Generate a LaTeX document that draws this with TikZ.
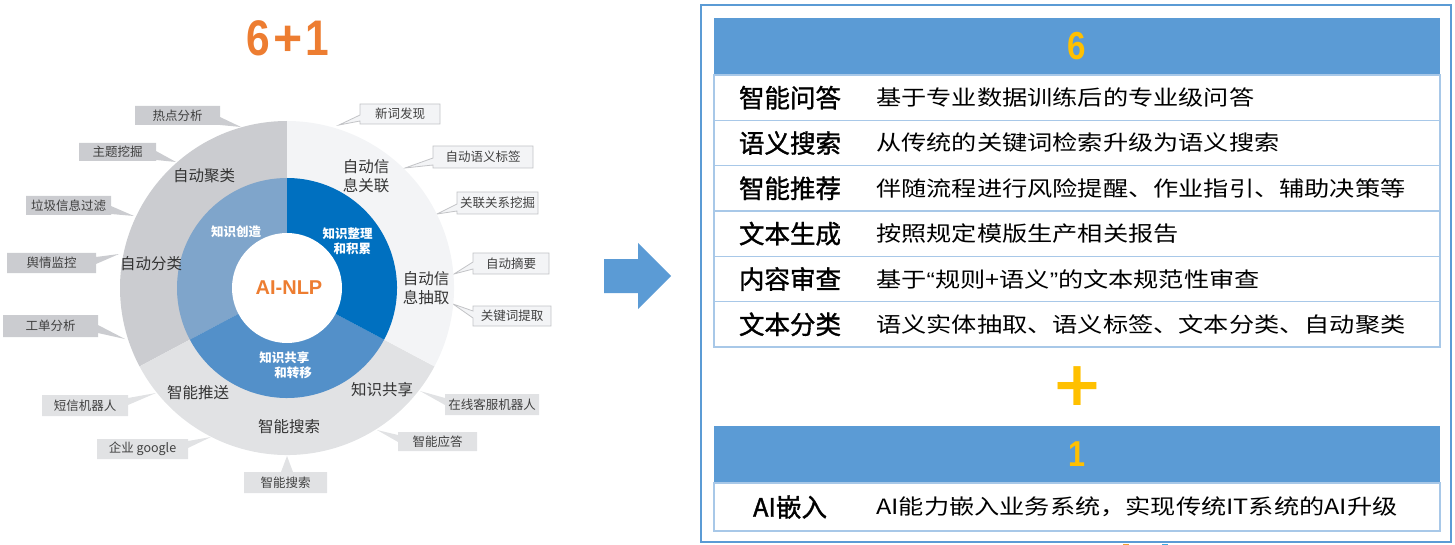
\documentclass[tikz,border=0pt]{standalone}
\usepackage{fontspec}
\usepackage{graphicx}
\setmainfont{Noto Sans CJK SC}
\newfontfamily\libsans{Liberation Sans}
\newfontfamily\djsans{DejaVu Sans}
\newfontfamily\cjkheavy[FakeBold=1.3]{Noto Sans CJK SC}
\definecolor{orange1}{HTML}{ED7D31}
\definecolor{gDark}{HTML}{CBCCD0}
\definecolor{gMid}{HTML}{E1E2E4}
\definecolor{gLight}{HTML}{F3F4F6}
\definecolor{gBorder}{HTML}{C2C3C6}
\definecolor{blueDark}{HTML}{0070C0}
\definecolor{blueLight}{HTML}{7FA5CB}
\definecolor{blueMid}{HTML}{5390C9}
\definecolor{ringtext}{HTML}{333333}
\definecolor{calltext}{HTML}{404040}
\definecolor{panelblue}{HTML}{5B9BD5}
\definecolor{rowline}{HTML}{A8C8E8}
\definecolor{gold}{HTML}{FFC000}
\definecolor{markorange}{HTML}{F0A030}
\definecolor{markblue}{HTML}{3FA9E0}
\pgfdeclarelayer{bg}
\pgfsetlayers{bg,main}
\begin{document}
\begin{tikzpicture}[x=1pt,y=-1pt,
  cbox/.style={inner sep=0pt, outer sep=0pt, text=calltext, font=\fontsize{12.5}{14}\selectfont},
  wedgeD/.style={fill=gDark},
  wedgeM/.style={fill=gMid},
  wedgeL/.style={fill=gLight, draw=gBorder, line width=0.8},
  ringlab/.style={text=ringtext, font=\fontsize{15.5}{19}\selectfont, align=center, inner sep=0pt},
  bluelab/.style={text=white, font=\bfseries\fontsize{12.5}{15}\selectfont, align=left, inner sep=0pt},
  hdrbox/.style={fill=panelblue, inner sep=0pt, outer sep=0pt, minimum width=726, anchor=north west, text=gold, font=\libsans\bfseries},
  rowbox/.style={draw=rowline, line width=1.5, inner sep=0pt, outer sep=0pt, minimum width=726, anchor=north west},
  tlabel/.style={inner sep=0pt, text=black, font=\cjkheavy\fontsize{25.5}{28}\selectfont},
  tdesc/.style={inner sep=0pt, anchor=west, text=black, font=\fontsize{21}{24}\selectfont},
]
\useasboundingbox (0,0) rectangle (1455,545);

% ---------- title ----------
\node[text=orange1, font=\libsans\bfseries\fontsize{50}{50}\selectfont, inner sep=0pt] (title) at (288,38)
  {\scalebox{0.85}[1]{6}\hspace{3pt}+\hspace{3pt}\scalebox{0.85}[1]{1}};

% ---------- rings ----------
\begin{scope}[shift={(287,288)}, y=1pt]
  \fill[gDark]  (0,0) -- (90:167)  arc[start angle=90,  end angle=208, radius=167] -- cycle;
  \fill[gMid]   (0,0) -- (208:167) arc[start angle=208, end angle=332, radius=167] -- cycle;
  \fill[gLight] (0,0) -- (-28:167) arc[start angle=-28, end angle=90,  radius=167] -- cycle;
  \fill[blueLight] (0,0) -- (90:110)  arc[start angle=90,  end angle=208, radius=110] -- cycle;
  \fill[blueMid]   (0,0) -- (208:110) arc[start angle=208, end angle=332, radius=110] -- cycle;
  \fill[blueDark]  (0,0) -- (-28:110) arc[start angle=-28, end angle=90,  radius=110] -- cycle;
  \fill[white] (0,0) circle[radius=55];
\end{scope}

\node[text=orange1, font=\libsans\bfseries\fontsize{20}{20}\selectfont, inner sep=0pt] (ainlp) at (289,288) {AI-NLP};

% ring labels
\node[ringlab] (lJulei) at (204,176) {自动聚类};
\node[ringlab] (lFenlei) at (151,264) {自动分类};
\node[ringlab] (lGuanlian) at (366,176.5) {自动信\\息关联};
\node[ringlab] (lChouqu) at (426,288) {自动信\\息抽取};
\node[ringlab] (lGongxiang) at (382,390) {知识共享};
\node[ringlab] (lTuisong) at (198,393) {智能推送};
\node[ringlab] (lSousuo) at (289,427) {智能搜索};

\node[bluelab] (bChuangzao) at (236,232) {知识创造};
\node[bluelab] (bZhengli) at (347.5,241.5) {知识整理\\\hspace*{11pt}和积累};
\node[bluelab] (bZhuanyi) at (285.5,365.5) {知识共享\\\hspace*{15pt}和转移};

% ---------- callouts ----------
\node[cbox, minimum width=85, minimum height=19] (hot) at (177.5,115.5) {热点分析};
\node[cbox, minimum width=77, minimum height=18] (topic) at (117.5,152) {主题挖掘};
\node[cbox, minimum width=85, minimum height=19] (spam) at (68.5,205.5) {垃圾信息过滤};
\node[cbox, minimum width=89, minimum height=20] (opin) at (51.5,263) {舆情监控};
\node[cbox, minimum width=95, minimum height=22] (ticket) at (50.5,326) {工单分析};
\node[cbox, minimum width=86, minimum height=21] (sms) at (85,405.5) {短信机器人};
\node[cbox, minimum width=91, minimum height=20] (goog) at (142.5,449) {企业 google};
\node[cbox, minimum width=83, minimum height=21] (srch) at (285.5,482.5) {智能搜索};
\node[cbox, minimum width=79, minimum height=19] (answ) at (437.5,441.5) {智能应答};
\node[cbox, minimum width=94, minimum height=21] (cs) at (492,404.5) {在线客服机器人};
\node[cbox, minimum width=78, minimum height=20] (kw) at (512,316) {关键词提取};
\node[cbox, minimum width=76, minimum height=21] (summ) at (511,263.5) {自动摘要};
\node[cbox, minimum width=81, minimum height=22] (rel) at (497.5,203) {关联关系挖掘};
\node[cbox, minimum width=100, minimum height=22] (tag) at (483,157) {自动语义标签};
\node[cbox, minimum width=80, minimum height=20] (neww) at (400,114) {新词发现};

\coordinate (t1) at (241,127);
\coordinate (t2) at (176,162);
\coordinate (t3) at (134,216);
\coordinate (t4) at (119,254);
\coordinate (t5) at (125,339);
\coordinate (t6) at (156,393);
\coordinate (t7) at (211,437);
\coordinate (t8) at (287,456);
\coordinate (t9) at (377,430);
\coordinate (t10) at (420,391);
\coordinate (t11) at (453,304);
\coordinate (t12) at (454,274);
\coordinate (t13) at (437,214);
\coordinate (t14) at (405,168);
\coordinate (t15) at (339,125);

\begin{pgfonlayer}{bg}
  % wedges on the right side of the box
  \path[wedgeD] (hot.north west) -- (hot.north east) -- (hot.east |- 0,117) -- (t1) -- (hot.east |- 0,125) -- (hot.south east) -- (hot.south west) -- cycle;
  \path[wedgeD] (topic.north west) -- (topic.north east) -- (topic.east |- 0,151) -- (t2) -- (topic.east |- 0,160) -- (topic.south east) -- (topic.south west) -- cycle;
  \path[wedgeD] (spam.north west) -- (spam.north east) -- (spam.east |- 0,206) -- (t3) -- (spam.east |- 0,214) -- (spam.south east) -- (spam.south west) -- cycle;
  \path[wedgeD] (opin.north west) -- (opin.north east) -- (opin.east |- 0,257) -- (t4) -- (opin.east |- 0,264) -- (opin.south east) -- (opin.south west) -- cycle;
  \path[wedgeD] (ticket.north west) -- (ticket.north east) -- (ticket.east |- 0,325) -- (t5) -- (ticket.east |- 0,333) -- (ticket.south east) -- (ticket.south west) -- cycle;
  \path[wedgeM] (sms.north west) -- (sms.north east) -- (sms.east |- 0,398) -- (t6) -- (sms.east |- 0,405) -- (sms.south east) -- (sms.south west) -- cycle;
  \path[wedgeM] (goog.north west) -- (goog.north east) -- (goog.east |- 0,441) -- (t7) -- (goog.east |- 0,448) -- (goog.south east) -- (goog.south west) -- cycle;
  % wedge on top
  \path[wedgeM] (srch.south west) -- (srch.north west) -- (srch.north -| 281,0) -- (t8) -- (srch.north -| 293,0) -- (srch.north east) -- (srch.south east) -- cycle;
  % wedges on the left side of the box
  \path[wedgeM] (answ.north west) -- (answ.north east) -- (answ.south east) -- (answ.south west) -- (answ.west |- 0,442) -- (t9) -- (answ.west |- 0,435) -- cycle;
  \path[wedgeM] (cs.north west) -- (cs.north east) -- (cs.south east) -- (cs.south west) -- (cs.west |- 0,405) -- (t10) -- (cs.west |- 0,398) -- cycle;
  \path[wedgeL] (kw.north west) -- (kw.north east) -- (kw.south east) -- (kw.south west) -- (kw.west |- 0,318) -- (t11) -- (kw.west |- 0,311) -- cycle;
  \path[wedgeL] (summ.north west) -- (summ.north east) -- (summ.south east) -- (summ.south west) -- (summ.west |- 0,269) -- (t12) -- (summ.west |- 0,262) -- cycle;
  \path[wedgeL] (rel.north west) -- (rel.north east) -- (rel.south east) -- (rel.south west) -- (rel.west |- 0,211) -- (t13) -- (rel.west |- 0,204) -- cycle;
  \path[wedgeL] (tag.north west) -- (tag.north east) -- (tag.south east) -- (tag.south west) -- (tag.west |- 0,165) -- (t14) -- (tag.west |- 0,158) -- cycle;
  \path[wedgeL] (neww.north west) -- (neww.north east) -- (neww.south east) -- (neww.south west) -- (neww.west |- 0,121) -- (t15) -- (neww.west |- 0,115) -- cycle;
\end{pgfonlayer}

% ---------- big arrow ----------
\fill[panelblue] (604,259) -- (638,259) -- (638,243) -- (671,276) -- (638,309) -- (638,293) -- (604,293) -- cycle;

% ---------- right panel ----------
\draw[panelblue, line width=2] (701,5) rectangle (1451,542);

\node[hdrbox, minimum height=57, font=\libsans\bfseries\fontsize{39}{39}\selectfont] (h6) at (714,18) {\scalebox{0.85}[1]{6}};

\node[rowbox, minimum height=45.33] (r1) at (714,75) {};
\node[rowbox, minimum height=45.33] (r2) at (714,120.33) {};
\node[rowbox, minimum height=45.33] (r3) at (714,165.67) {};
\node[rowbox, minimum height=45.33] (r4) at (714,211) {};
\node[rowbox, minimum height=45.33] (r5) at (714,256.33) {};
\node[rowbox, minimum height=45.33] (r6) at (714,301.67) {};

\node[tlabel] (k1) at (790,97.7) {智能问答};
\node[tlabel] (k2) at (790,143) {语义搜索};
\node[tlabel] (k3) at (790,188.3) {智能推荐};
\node[tlabel] (k4) at (790,233.7) {文本生成};
\node[tlabel] (k5) at (790,279) {内容审查};
\node[tlabel] (k6) at (790,324.3) {文本分类};

\node[tdesc] (d1) at (876,97.7) {\scalebox{1.2}[1]{基于专业数据训练后的专业级问答}};
\node[tdesc] (d2) at (876,143) {\scalebox{1.2}[1]{从传统的关键词检索升级为语义搜索}};
\node[tdesc] (d3) at (876,188.3) {\scalebox{1.2}[1]{伴随流程进行风险提醒、作业指引、辅助决策等}};
\node[tdesc] (d4) at (876,233.7) {\scalebox{1.2}[1]{按照规定模版生产相关报告}};
\node[tdesc] (d5) at (876,279) {\scalebox{1.2}[1]{基于{\libsans “}规则+语义{\libsans ”}的文本规范性审查}};
\node[tdesc] (d6) at (876,324.3) {\scalebox{1.2}[1]{语义实体抽取、语义标签、文本分类、自动聚类}};

\node[text=gold, font=\djsans\bfseries\fontsize{62}{62}\selectfont, inner sep=0pt] (plus) at (1077,386) {+};

\node[hdrbox, minimum height=57, font=\libsans\bfseries\fontsize{36}{36}\selectfont] (h1) at (714,426) {\scalebox{0.85}[1]{1}};
\node[rowbox, minimum height=48] (r7) at (714,483) {};
\node[tlabel] (k7) at (790,507) {AI嵌入};
\node[tdesc] (d7) at (876,507) {\scalebox{1.2}[1]{AI能力嵌入业务系统，实现传统IT系统的AI升级}};

% small marks at the lower edge
\fill[markorange] (1123,543.5) rectangle (1129,545);
\fill[markblue] (1162,543.5) rectangle (1168,545);
\end{tikzpicture}
\end{document}
